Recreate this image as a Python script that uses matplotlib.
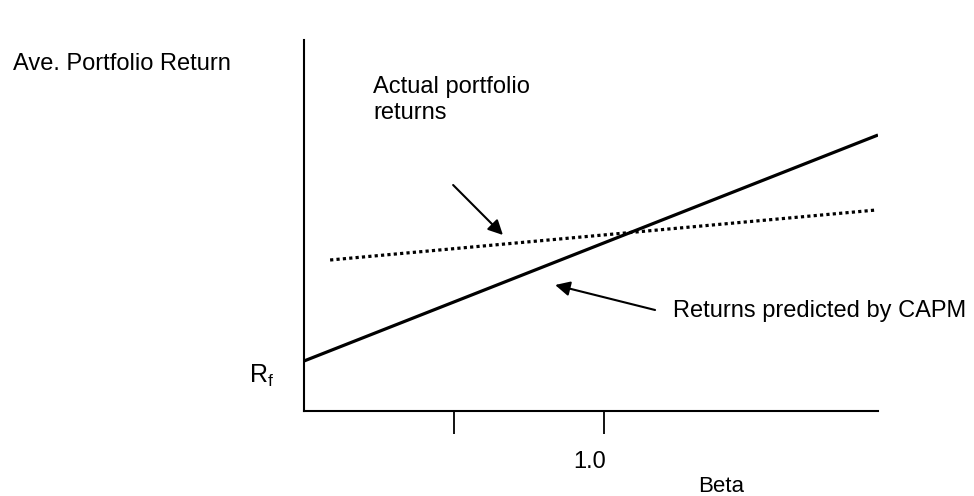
import matplotlib
matplotlib.use("Agg")
import matplotlib.pyplot as plt

plt.rcParams["font.family"] = ["Liberation Sans", "DejaVu Sans"]

# beta values and average returns (arbitrary return units)
beta_capm = [0.0, 1.913]
ret_capm = [2.5, 13.8]

beta_actual = [0.087, 1.907]
ret_actual = [7.55, 10.05]

tick_positions = [0.5, 1.0]

fig = plt.figure(figsize=(9.74, 4.96), dpi=100)
W, H = 974, 496
ax = fig.add_axes([304 / W, 1 - 411 / H, (878 - 304) / W, (411 - 40) / H])
ax.set_xlim(0, 1.913)
ax.set_ylim(0, 18.55)

ax.plot(beta_capm, ret_capm, color="black", lw=2.3, solid_capstyle="butt")
ax.plot(beta_actual, ret_actual, color="black", lw=2.3, linestyle=(0, (1, 1)))

for side in ["top", "right"]:
    ax.spines[side].set_visible(False)
for side in ["left", "bottom"]:
    ax.spines[side].set_linewidth(1.5)

ax.set_yticks([])
ax.set_xticks(tick_positions)
ax.set_xticklabels([])
ax.tick_params(axis="x", direction="out", length=16.5, width=1.3)

arrow = dict(arrowstyle="-|>", mutation_scale=22, lw=1.5, color="black",
             shrinkA=0, shrinkB=0)
ax.annotate("", xy=(0.663, 8.8), xytext=(0.497, 11.3), arrowprops=arrow)
ax.annotate("", xy=(0.837, 6.3), xytext=(1.17, 5.05), arrowprops=arrow)

fs = 17
fig.text(13 / W, 1 - 70 / H, "Ave. Portfolio Return", fontsize=fs, va="baseline", ha="left")
fig.text(373 / W, 1 - 93 / H, "Actual portfolio", fontsize=fs, va="baseline", ha="left")
fig.text(373 / W, 1 - 119 / H, "returns", fontsize=fs, va="baseline", ha="left")
fig.text(673 / W, 1 - 317 / H, "Returns predicted by CAPM", fontsize=fs, va="baseline", ha="left")
fig.text(249 / W, 1 - 383 / H, r"R$_\mathregular{f}$", fontsize=fs + 1, va="baseline", ha="left")
fig.text(590 / W, 1 - 468 / H, "1.0", fontsize=fs, va="baseline", ha="center")
fig.text(698 / W, 1 - 492 / H, "Beta", fontsize=fs - 1, va="baseline", ha="left")

fig.savefig("out.png", dpi=100)
